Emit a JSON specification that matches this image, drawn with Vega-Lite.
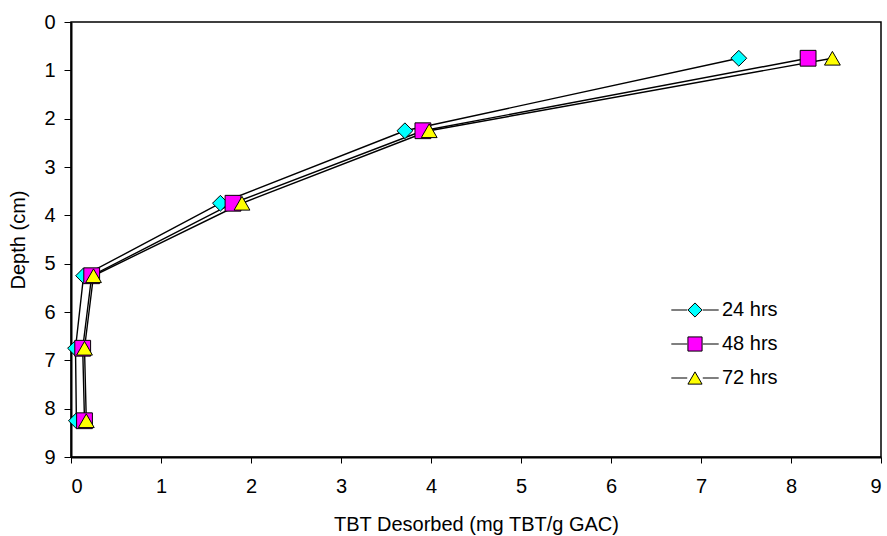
{
  "$schema": "https://vega.github.io/schema/vega-lite/v6.json",
  "autosize": "none",
  "width": 810,
  "height": 435,
  "padding": {"left": 71, "top": 22, "right": 6, "bottom": 79},
  "background": "white",
  "config": {
    "font": "Liberation Sans",
    "view": {"stroke": "black", "strokeWidth": 1.5},
    "axis": {
      "grid": false,
      "domainColor": "black",
      "domainWidth": 2,
      "tickColor": "black",
      "tickWidth": 1,
      "labelColor": "black",
      "labelFontSize": 20,
      "titleFontSize": 20,
      "titleFontWeight": "normal",
      "titleColor": "black"
    }
  },
  "data": {
    "values": [
      {"series": "24 hrs", "tbt": 7.42, "depth": 0.75},
      {"series": "24 hrs", "tbt": 3.71, "depth": 2.25},
      {"series": "24 hrs", "tbt": 1.66, "depth": 3.75},
      {"series": "24 hrs", "tbt": 0.14, "depth": 5.25},
      {"series": "24 hrs", "tbt": 0.05, "depth": 6.75},
      {"series": "24 hrs", "tbt": 0.06, "depth": 8.25},
      {"series": "48 hrs", "tbt": 8.19, "depth": 0.75},
      {"series": "48 hrs", "tbt": 3.91, "depth": 2.25},
      {"series": "48 hrs", "tbt": 1.80, "depth": 3.75},
      {"series": "48 hrs", "tbt": 0.23, "depth": 5.25},
      {"series": "48 hrs", "tbt": 0.13, "depth": 6.75},
      {"series": "48 hrs", "tbt": 0.15, "depth": 8.25},
      {"series": "72 hrs", "tbt": 8.46, "depth": 0.75},
      {"series": "72 hrs", "tbt": 3.98, "depth": 2.25},
      {"series": "72 hrs", "tbt": 1.90, "depth": 3.75},
      {"series": "72 hrs", "tbt": 0.25, "depth": 5.25},
      {"series": "72 hrs", "tbt": 0.15, "depth": 6.75},
      {"series": "72 hrs", "tbt": 0.17, "depth": 8.25}
    ]
  },
  "encoding": {
    "x": {
      "field": "tbt", "type": "quantitative",
      "scale": {"domain": [0, 9], "nice": false, "zero": false},
      "axis": {"values": [0,1,2,3,4,5,6,7,8,9], "tickSize": 6, "labelPadding": 13, "title": "TBT Desorbed (mg TBT/g GAC)", "titleY": 73, "titleBaseline": "alphabetic"}
    },
    "y": {
      "field": "depth", "type": "quantitative",
      "scale": {"domain": [0, 9], "nice": false, "zero": false, "reverse": true},
      "axis": {"values": [0,1,2,3,4,5,6,7,8,9], "tickSize": 7, "labelPadding": 9, "title": "Depth (cm)", "titleX": -47, "titleBaseline": "alphabetic"}
    }
  },
  "layer": [
    {
      "mark": {"type": "line", "strokeWidth": 1.4},
      "encoding": {
        "stroke": {
          "field": "series", "type": "nominal",
          "scale": {"range": ["black", "black", "black"]},
          "legend": {
            "title": null,
            "orient": "none",
            "legendX": 614,
            "legendY": 278,
            "symbolSize": 200,
            "symbolType": "M-3.35,0L-1.1,0M1.1,0L3.35,0",
            "symbolStrokeWidth": 1.2,
            "labelOffset": 17,
            "labelFontSize": 20,
            "labelOpacity": 0,
            "rowPadding": 14,
            "padding": 0
          }
        },
        "order": {"field": "depth", "type": "quantitative"}
      }
    },
    {
      "mark": {"type": "point", "filled": true, "stroke": "black", "strokeWidth": 1, "opacity": 1, "size": 250},
      "encoding": {
        "fill": {
          "field": "series", "type": "nominal",
          "scale": {"domain": ["24 hrs", "48 hrs", "72 hrs"], "range": ["#00FFFF", "#FF00FF", "#FFFF00"]},
          "legend": {
            "title": null,
            "orient": "none",
            "legendX": 614,
            "legendY": 278,
            "symbolSize": 200,
            "symbolStrokeWidth": 1,
            "labelOffset": 17,
            "labelFontSize": 20,
            "labelColor": "black",
            "rowPadding": 14,
            "padding": 0
          }
        },
        "shape": {
          "field": "series", "type": "nominal",
          "scale": {"domain": ["24 hrs", "48 hrs", "72 hrs"], "range": ["diamond", "square", "triangle-up"]},
          "legend": {
            "title": null,
            "orient": "none",
            "legendX": 614,
            "legendY": 278,
            "symbolSize": 200,
            "symbolStrokeWidth": 1,
            "labelOffset": 17,
            "labelFontSize": 20,
            "labelColor": "black",
            "rowPadding": 14,
            "padding": 0
          }
        }
      }
    }
  ]
}
